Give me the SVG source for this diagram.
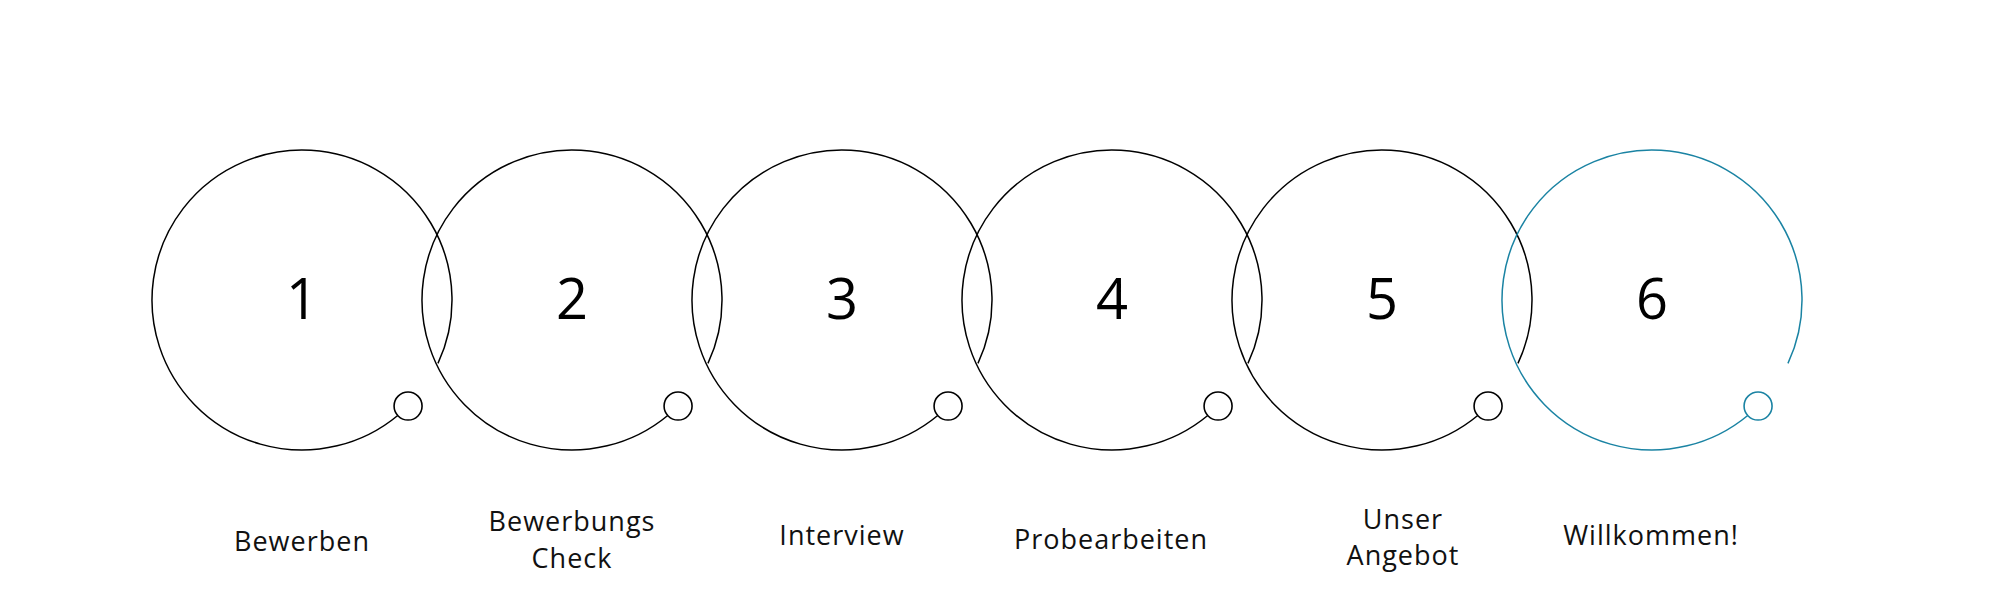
<svg xmlns="http://www.w3.org/2000/svg" width="2000" height="600" viewBox="0 0 2000 600">
<style>
.ring{fill:none;stroke:#000;stroke-width:1.5}
.dot{fill:#fff;stroke:#000;stroke-width:1.6}
.teal .ring,.teal .dot{stroke:#1a83a3}
.num{font-family:"Open Sans","Liberation Sans",sans-serif;font-weight:400;font-size:56px;fill:#000;text-anchor:middle}
.lbl{font-family:"Open Sans","Liberation Sans",sans-serif;font-weight:400;font-size:27px;letter-spacing:1px;fill:#111;text-anchor:middle}
</style>
<rect width="2000" height="600" fill="#fff"/>
<g id="step1">
<path class="ring" d="M437.95 363.39 A150 150 0 1 0 397.75 415.47"/>
<circle class="dot" cx="408.07" cy="406.07" r="14"/>
<text class="num" x="302" y="319">1</text>
<text class="lbl" x="302" y="551">Bewerben</text>
</g>
<g id="step2">
<path class="ring" d="M707.95 363.39 A150 150 0 1 0 667.75 415.47"/>
<circle class="dot" cx="678.07" cy="406.07" r="14"/>
<text class="num" x="572" y="319">2</text>
<text class="lbl" x="572" y="531">Bewerbungs</text>
<text class="lbl" x="572" y="568">Check</text>
</g>
<g id="step3">
<path class="ring" d="M977.95 363.39 A150 150 0 1 0 937.75 415.47"/>
<circle class="dot" cx="948.07" cy="406.07" r="14"/>
<text class="num" x="842" y="319">3</text>
<text class="lbl" x="842" y="545">Interview</text>
</g>
<g id="step4">
<path class="ring" d="M1247.95 363.39 A150 150 0 1 0 1207.75 415.47"/>
<circle class="dot" cx="1218.07" cy="406.07" r="14"/>
<text class="num" x="1112" y="319">4</text>
<text class="lbl" x="1111" y="549">Probearbeiten</text>
</g>
<g id="step5">
<path class="ring" d="M1517.95 363.39 A150 150 0 1 0 1477.75 415.47"/>
<circle class="dot" cx="1488.07" cy="406.07" r="14"/>
<text class="num" x="1382" y="319">5</text>
<text class="lbl" x="1403" y="529">Unser</text>
<text class="lbl" x="1403" y="565">Angebot</text>
</g>
<g id="step6" class="teal">
<path class="ring" d="M1787.95 363.39 A150 150 0 1 0 1747.75 415.47"/>
<circle class="dot" cx="1758.07" cy="406.07" r="14"/>
<text class="num" x="1652" y="319">6</text>
<text class="lbl" x="1651" y="545">Willkommen!</text>
</g>
</svg>
